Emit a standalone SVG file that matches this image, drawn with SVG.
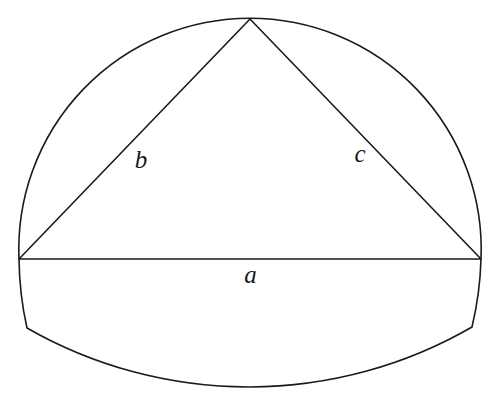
<svg xmlns="http://www.w3.org/2000/svg" width="500" height="407" viewBox="0 0 500 407">
<style>
.s{fill:none;stroke:#1a1a1a;stroke-width:1.6;stroke-linejoin:round}
.t{font-family:"Liberation Serif",serif;font-style:italic;font-size:25px;fill:#1a1a1a;text-anchor:middle}
</style>
<rect width="500" height="407" fill="#fff"/>
<g id="outline">
<path class="s" d="M19,259 A231.2,231.2 0 1 1 481,259"/>
<path class="s" d="M19,259 A330,330 0 0 0 27,328 A446,446 0 0 0 472,327 A330,330 0 0 0 481,259"/>
</g>
<g id="connectors">
<path class="s" d="M19,259 L250,19 L481,259 Z"/>
</g>
<g id="labels">
<text class="t" x="141" y="168">b</text>
<text class="t" x="360" y="162">c</text>
<text class="t" x="250.5" y="283">a</text>
</g>
</svg>
